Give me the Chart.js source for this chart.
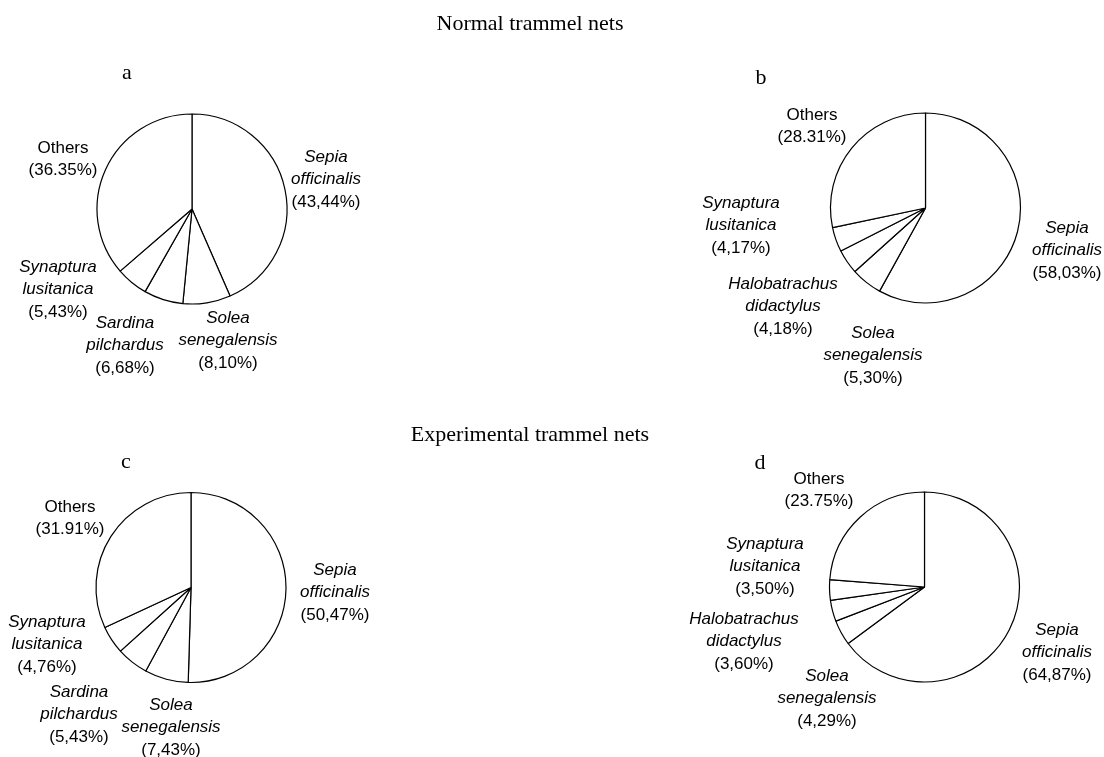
<!DOCTYPE html>
<html>
<head>
<meta charset="utf-8">
<script src="https://cdn.jsdelivr.net/npm/chart.js@4.4.1/dist/chart.umd.min.js"></script>
<style>
  html, body { margin: 0; padding: 0; background: #fff; }
  #wrap { position: relative; width: 1104px; height: 757px; }
  #wrap canvas { position: absolute; left: 0; top: 0; }
</style>
</head>
<body>
<div id="wrap">
  <canvas id="pa" width="1104" height="757"></canvas>
  <canvas id="pb" width="1104" height="757"></canvas>
  <canvas id="pc" width="1104" height="757"></canvas>
  <canvas id="pd" width="1104" height="757"></canvas>
</div>
<script>
// slices go clockwise from 12 o'clock
const namesA = ["Sepia officinalis", "Solea senegalensis", "Sardina pilchardus", "Synaptura lusitanica", "Others"];
const valuesA = [43.44, 8.10, 6.68, 5.43, 36.35];
const pctA = ["(43,44%)", "(8,10%)", "(6,68%)", "(5,43%)", "(36.35%)"];

const namesB = ["Sepia officinalis", "Solea senegalensis", "Halobatrachus didactylus", "Synaptura lusitanica", "Others"];
const valuesB = [58.03, 5.30, 4.18, 4.17, 28.31];
const pctB = ["(58,03%)", "(5,30%)", "(4,18%)", "(4,17%)", "(28.31%)"];

const namesC = ["Sepia officinalis", "Solea senegalensis", "Sardina pilchardus", "Synaptura lusitanica", "Others"];
const valuesC = [50.47, 7.43, 5.43, 4.76, 31.91];
const pctC = ["(50,47%)", "(7,43%)", "(5,43%)", "(4,76%)", "(31.91%)"];

const namesD = ["Sepia officinalis", "Solea senegalensis", "Halobatrachus didactylus", "Synaptura lusitanica", "Others"];
const valuesD = [64.87, 4.29, 3.60, 3.50, 23.75];
const pctD = ["(64,87%)", "(4,29%)", "(3,60%)", "(3,50%)", "(23.75%)"];

const W = 1104, H = 757, R = 95;
const serif = '"Liberation Serif", "Times New Roman", serif';
const sans = '"Liberation Sans", Arial, sans-serif';

// pie centre, panel letter and label spots (page coords)
const panels = [
  { id: "pa", names: namesA, values: valuesA, pct: pctA, cx: 192, cy: 209,
    letter: ["a", 127, 79], title: ["Normal trammel nets", 530, 30],
    spots: [[326, 157], [228, 318], [125, 323], [58, 267], [63, 148]] },
  { id: "pb", names: namesB, values: valuesB, pct: pctB, cx: 925.5, cy: 208,
    letter: ["b", 761, 84],
    spots: [[1067, 228], [873, 333], [783, 284], [741, 203], [812, 115]] },
  { id: "pc", names: namesC, values: valuesC, pct: pctC, cx: 191, cy: 587.5,
    letter: ["c", 126, 468], title: ["Experimental trammel nets", 530, 441],
    spots: [[335, 570], [171, 705], [79, 692], [47, 622], [70, 507]] },
  { id: "pd", names: namesD, values: valuesD, pct: pctD, cx: 924.5, cy: 587,
    letter: ["d", 760, 469],
    spots: [[1057, 630], [827, 676], [744, 619], [765, 544], [819, 479]] }
];

const lineGap = 22.5;

const textPlugin = {
  id: "pieText",
  afterDraw(chart, args, opts) {
    const ctx = chart.ctx;
    const p = opts.panel;
    ctx.save();
    ctx.fillStyle = "#000";
    ctx.textAlign = "center";
    ctx.textBaseline = "alphabetic";
    ctx.font = "22px " + serif;
    if (p.title) ctx.fillText(p.title[0], p.title[1], p.title[2]);
    ctx.fillText(p.letter[0], p.letter[1], p.letter[2]);

    ctx.textBaseline = "middle";
    p.names.forEach((name, i) => {
      const [x, y] = p.spots[i];
      const lines = name === "Others" ? [] : name.split(" ");
      if (name === "Others") {
        ctx.font = "17px " + sans;
        ctx.fillText(name, x, y);
      } else {
        ctx.font = "italic 17px " + sans;
        lines.forEach((ln, k) => ctx.fillText(ln, x, y + k * lineGap));
      }
      ctx.font = "17px " + sans;
      const n = name === "Others" ? 1 : lines.length;
      ctx.fillText(p.pct[i], x, y + n * lineGap);
    });
    ctx.restore();
  }
};

panels.forEach(p => {
  const half = R + 1;
  new Chart(document.getElementById(p.id), {
    type: "pie",
    data: {
      labels: p.names,
      datasets: [{
        data: p.values,
        backgroundColor: "#fff",
        borderColor: "#000",
        borderWidth: 1.2,
        radius: R
      }]
    },
    options: {
      responsive: false,
      animation: false,
      events: [],
      layout: {
        padding: {
          left: p.cx - half,
          right: W - p.cx - half,
          top: p.cy - half,
          bottom: H - p.cy - half
        }
      },
      plugins: {
        legend: { display: false },
        tooltip: { enabled: false },
        pieText: { panel: p }
      }
    },
    plugins: [textPlugin]
  });
});
</script>
</body>
</html>
